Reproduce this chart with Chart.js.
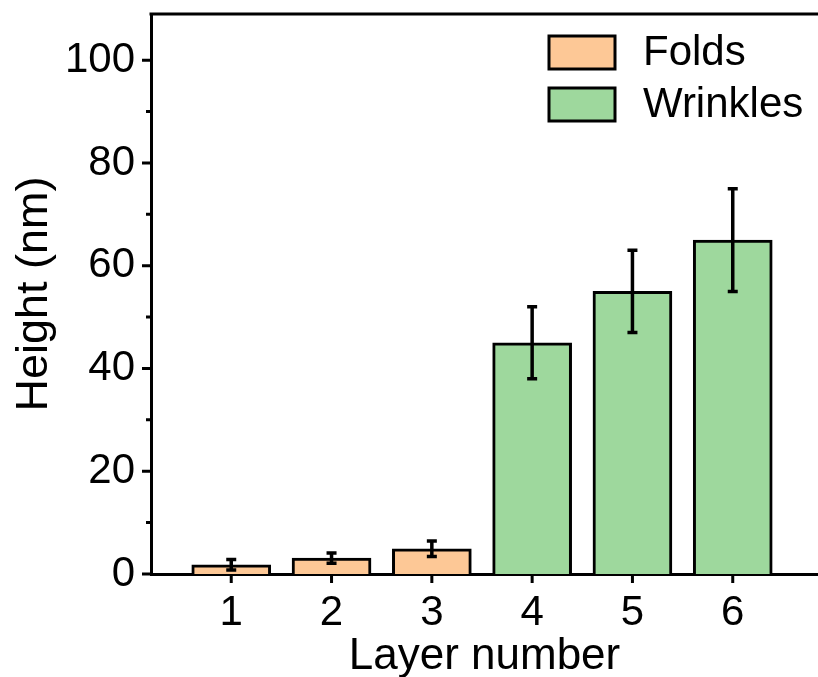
<!DOCTYPE html>
<html>
<head>
<meta charset="utf-8">
<script src="https://cdn.jsdelivr.net/npm/chart.js@4/dist/chart.umd.min.js"></script>
<style>
  html, body { margin: 0; padding: 0; background: #fff; overflow: hidden; width: 818px; height: 677px; }
</style>
</head>
<body>
<canvas id="c" width="818" height="677"></canvas>
<script>
// Layer numbers shown on the x axis
const layerTicks = [1, 2, 3, 4, 5, 6];

// Folds (layers 1-3): mean height and error, nm
const foldLayers = [1, 2, 3];
const foldHeights = [1.8, 3.1, 4.9];
const foldErrors = [1.0, 1.0, 1.5];

// Wrinkles (layers 4-6): mean height and error, nm
const wrinkleLayers = [4, 5, 6];
const wrinkleHeights = [45, 55, 65];
const wrinkleErrors = [7, 8, 10];

// Height axis ticks
const yMajorTicks = [0, 20, 40, 60, 80, 100];
const yMinorTicks = [10, 30, 50, 70, 90];

const FONT = "'Liberation Sans', Arial, Helvetica, sans-serif";
const FOLD_COLOR = '#FDC896';
const WRINKLE_COLOR = '#9ED89D';

function points(xs, ys) { return xs.map((x, i) => ({ x: x, y: ys[i] })); }

// Error bars, drawn from each dataset's own error array
const errorBars = {
  id: 'errorBars',
  afterDatasetsDraw(chart) {
    const ctx = chart.ctx;
    const y = chart.scales.y;
    ctx.save();
    ctx.strokeStyle = '#000';
    ctx.lineWidth = 3.5;
    chart.data.datasets.forEach((ds, di) => {
      const meta = chart.getDatasetMeta(di);
      meta.data.forEach((bar, i) => {
        const v = ds.data[i].y, e = ds.errors[i];
        const top = y.getPixelForValue(v + e);
        const bot = y.getPixelForValue(v - e);
        const cx = bar.x, cap = 5;
        ctx.beginPath();
        ctx.moveTo(cx, top); ctx.lineTo(cx, bot);
        ctx.moveTo(cx - cap, top); ctx.lineTo(cx + cap, top);
        ctx.moveTo(cx - cap, bot); ctx.lineTo(cx + cap, bot);
        ctx.stroke();
      });
    });
    ctx.restore();
  }
};

// Frame top line, outward tick marks and the legend
const frameAndLegend = {
  id: 'frameAndLegend',
  afterDraw(chart) {
    const ctx = chart.ctx;
    const a = chart.chartArea;
    const xs = chart.scales.x, ys = chart.scales.y;
    ctx.save();
    ctx.strokeStyle = '#000';
    ctx.lineWidth = 3;
    ctx.lineCap = 'butt';
    ctx.beginPath();
    ctx.moveTo(a.left - 1.5, a.top); ctx.lineTo(a.right, a.top);
    yMajorTicks.forEach(v => {
      const p = ys.getPixelForValue(v);
      ctx.moveTo(a.left - 9, p); ctx.lineTo(a.left, p);
    });
    yMinorTicks.forEach(v => {
      const p = ys.getPixelForValue(v);
      ctx.moveTo(a.left - 5, p); ctx.lineTo(a.left, p);
    });
    layerTicks.forEach(v => {
      const p = xs.getPixelForValue(v);
      ctx.moveTo(p, a.bottom); ctx.lineTo(p, a.bottom + 9);
    });
    ctx.stroke();

    // legend
    const boxX = 549, boxW = 66, boxH = 33;
    const rows = [36, 88];
    chart.data.datasets.forEach((ds, i) => {
      const by = rows[i];
      ctx.fillStyle = ds.backgroundColor;
      ctx.fillRect(boxX, by, boxW, boxH);
      ctx.lineWidth = 3;
      ctx.strokeStyle = '#000';
      ctx.strokeRect(boxX, by, boxW, boxH);
      ctx.fillStyle = '#000';
      ctx.font = '42px ' + FONT;
      ctx.textBaseline = 'middle';
      ctx.textAlign = 'left';
      ctx.fillText(ds.label, 643, by + boxH / 2 + 1);
    });
    ctx.restore();
  }
};

new Chart(document.getElementById('c'), {
  type: 'bar',
  data: {
    datasets: [
      {
        label: 'Folds',
        data: points(foldLayers, foldHeights),
        errors: foldErrors,
        backgroundColor: FOLD_COLOR,
        borderColor: '#000',
        borderWidth: 3
      },
      {
        label: 'Wrinkles',
        data: points(wrinkleLayers, wrinkleHeights),
        errors: wrinkleErrors,
        backgroundColor: WRINKLE_COLOR,
        borderColor: '#000',
        borderWidth: 3
      }
    ]
  },
  options: {
    responsive: false,
    animation: false,
    devicePixelRatio: 1,
    grouped: false,
    barThickness: 79,
    layout: { padding: { top: 14, right: 0, bottom: 0, left: 0 } },
    plugins: { legend: { display: false }, tooltip: { enabled: false } },
    scales: {
      x: {
        type: 'linear',
        offset: false,
        min: 0.2,
        max: 6.85,
        grid: { display: false, drawTicks: false, offset: false },
        border: { display: true, color: '#000', width: 3 },
        ticks: {
          stepSize: 1,
          includeBounds: false,
          autoSkip: false,
          maxRotation: 0,
          padding: 14,
          color: '#000',
          font: { family: FONT, size: 42 },
          callback: v => (layerTicks.includes(v) ? String(v) : '')
        },
        title: {
          display: true,
          text: 'Layer number',
          color: '#000',
          font: { family: FONT, size: 44, lineHeight: 1 },
          padding: { top: 0, bottom: -2 }
        },
        afterFit(s) { s.height = 103; s.paddingLeft = 0; s.paddingRight = 0; }
      },
      y: {
        min: 0,
        max: 109,
        grid: { display: false, drawTicks: false },
        border: { display: true, color: '#000', width: 3 },
        ticks: {
          stepSize: 10,
          includeBounds: false,
          padding: 16,
          color: '#000',
          font: { family: FONT, size: 42 },
          callback: v => (yMajorTicks.includes(v) ? String(v) : '')
        },
        title: {
          display: true,
          text: 'Height (nm)',
          color: '#000',
          font: { family: FONT, size: 45, lineHeight: 1 },
          padding: { top: 12, bottom: 0 }
        },
        afterFit(s) { s.width = 151; s.paddingTop = 0; s.paddingBottom = 0; }
      }
    }
  },
  plugins: [errorBars, frameAndLegend]
});
</script>
</body>
</html>
